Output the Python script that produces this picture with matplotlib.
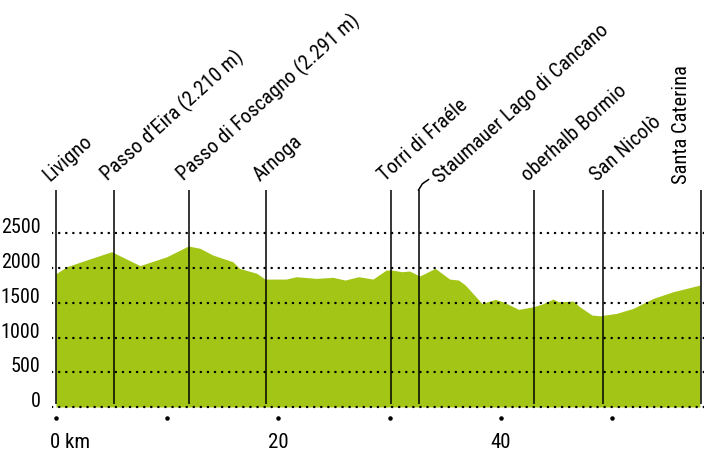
import matplotlib
matplotlib.use('Agg')
import matplotlib.pyplot as plt
from matplotlib import font_manager
from matplotlib.transforms import ScaledTranslation

# Höhenprofil Livigno - Santa Caterina
km = [0, 1.0, 2.45, 5.0, 7.55, 9.95, 11.9, 12.95, 14.1, 15.9, 16.5, 18.05,
      18.8, 20.7, 21.6, 23.4, 24.9, 26.0, 27.2, 28.5, 29.7, 30.2, 31.1, 31.8,
      32.7, 34.1, 35.4, 36.2, 36.8, 38.3, 39.5, 40.2, 41.6, 42.9, 43.7, 44.7,
      45.2, 46.5, 47.1, 48.2, 48.9, 50.4, 51.9, 53.7, 55.5, 57.9]
hoehe = [1920, 2020, 2100, 2235, 2035, 2162, 2317, 2284, 2187, 2091, 1995,
         1924, 1841, 1841, 1875, 1851, 1866, 1827, 1875, 1841, 1971, 1971,
         1947, 1957, 1885, 1995, 1841, 1827, 1755, 1491, 1549, 1514, 1405,
         1442, 1481, 1553, 1514, 1524, 1442, 1323, 1313, 1347, 1419, 1563,
         1659, 1755]

orte = ['Livigno', 'Passo d\u2019Eira (2.210 m)', 'Passo di Foscagno (2.291 m)',
        'Arnoga', 'Torri di Fraéle', 'Staumauer Lago di Cancano',
        'oberhalb Bormio', 'San Nicolò', 'Santa Caterina']
orte_km = [0, 5.2, 12.0, 18.9, 30.1, 32.6, 43.0, 49.2, 58.0]

y_ticks = [0, 500, 1000, 1500, 2000, 2500]
x_ticks = [0, 10, 20, 30, 40, 50]
x_labels = {0: '0 km', 20: '20', 40: '40'}

# Schmale Schrift, falls vorhanden
namen = {f.name for f in font_manager.fontManager.ttflist}
schrift = 'DejaVu Sans'
for kand in ['Liberation Sans Narrow', 'DejaVu Sans Condensed', 'Roboto Condensed',
             'Open Sans Condensed', 'Liberation Sans']:
    if kand in namen:
        schrift = kand
        break
plt.rcParams['font.family'] = [schrift, 'DejaVu Sans']

gruen = '#a3c516'

fig = plt.figure(figsize=(7.12, 4.55), dpi=100)
ax = fig.add_axes([52/712, 43/455, 652/712, 227/455])
ax.set_xlim(-0.36, 58.27)
ax.set_ylim(-72, 3195)
ax.axis('off')

ax.fill_between(km, hoehe, 0, color=gruen, linewidth=0, zorder=1)

for y in y_ticks:
    ax.axhline(y, color='black', linewidth=1.7, linestyle=(0, (0.1, 2.9)),
               dash_capstyle='round', zorder=3)
    ax.text(-0.018, y, str(y), transform=ax.get_yaxis_transform(),
            ha='right', va='baseline', fontsize=14.5)

# Punkte unter der Achse
ax.scatter(x_ticks, [-0.026]*len(x_ticks), s=5, color='black',
           transform=ax.get_xaxis_transform(), clip_on=False, zorder=3)
for x in x_ticks:
    if x in x_labels:
        if x == 0:
            ax.text(x, -0.16, x_labels[x], transform=ax.get_xaxis_transform()
                    + ScaledTranslation(-6/100, 0, fig.dpi_scale_trans),
                    ha='left', va='baseline', fontsize=15)
        else:
            ax.text(x, -0.16, x_labels[x], transform=ax.get_xaxis_transform(),
                    ha='center', va='baseline', fontsize=15)

oben = 3123
ax.vlines(orte_km, 40, oben, color='black', linewidth=1.1, zorder=4)

for name, x in zip(orte, orte_km):
    if name == 'Santa Caterina':
        ax.annotate(name, (x, oben), xytext=(-14, 4), textcoords='offset points',
                    rotation=90, rotation_mode='anchor', ha='left', va='center',
                    fontsize=14.8, annotation_clip=False)
    elif name.startswith('Staumauer'):
        ax.plot([x, x + 0.35, x + 0.9], [oben, oben + 90, oben + 150],
                color='black', linewidth=1.1, clip_on=False)
        ax.annotate(name, (x, oben), xytext=(13, 7), textcoords='offset points',
                    rotation=42, rotation_mode='anchor', ha='left', va='center',
                    fontsize=14.8, annotation_clip=False)
    else:
        ax.annotate(name, (x, oben), xytext=(-7, 9), textcoords='offset points',
                    rotation=42, rotation_mode='anchor', ha='left', va='center',
                    fontsize=14.8, annotation_clip=False)

fig.savefig('out.png', dpi=100)
